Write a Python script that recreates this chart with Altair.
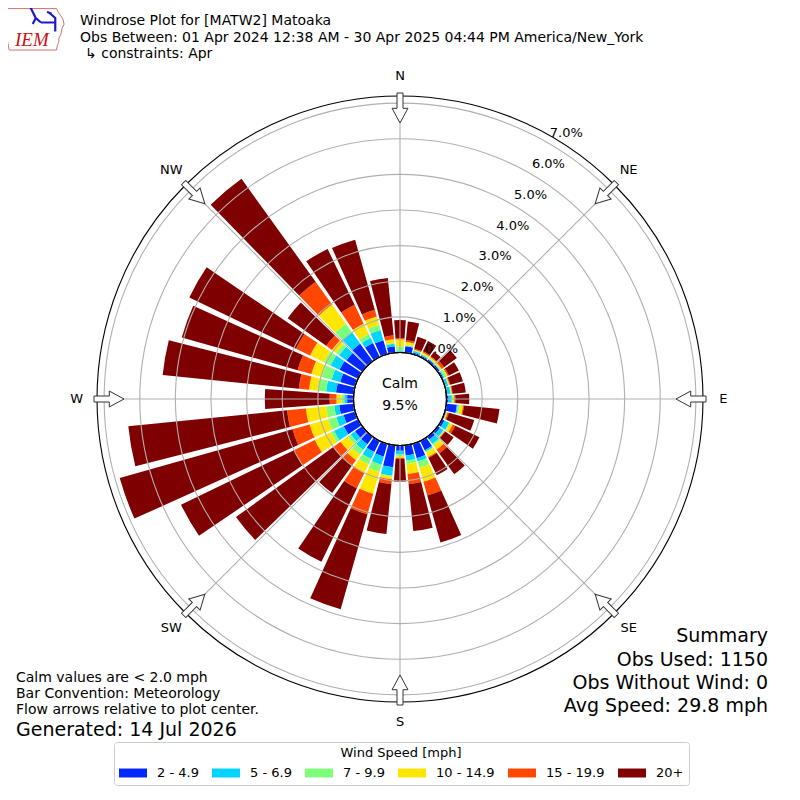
import math
import altair as alt
import pandas as pd

FONT = "DejaVu Sans"

# ---------------- data ----------------
directions = list(range(0, 360, 10))
bins = ["2 - 4.9", "5 - 6.9", "7 - 9.9", "10 - 14.9", "15 - 19.9", "20+"]
colors = ["#0028ff", "#00d4ff", "#7dff7a", "#ffe600", "#ff4700", "#7f0000"]

# percent of observations per direction for each speed bin
spd_2_5 = [0.02, 0.18, 0.05, 0.05, 0.06, 0.06, 0.05, 0.03, 0.03, 0.06,
           0.30, 0.03, 0.08, 0.08, 0.10, 0.29, 0.42, 0.29, 0.15, 0.62,
           0.37, 0.35, 0.26, 0.25, 0.45, 0.34, 0.41, 0.18, 0.50, 0.44,
           0.58, 0.55, 0.61, 0.44, 0.41, 0.18]
spd_5_7 = [0.02, 0.02, 0.05, 0.03, 0.02, 0.02, 0.03, 0.07, 0.09, 0.09,
           0.03, 0.02, 0.15, 0.12, 0.15, 0.04, 0.10, 0.14, 0.10, 0.24,
           0.24, 0.21, 0.20, 0.15, 0.30, 0.21, 0.14, 0.08, 0.28, 0.25,
           0.28, 0.25, 0.39, 0.16, 0.30, 0.07]
spd_7_10 = [0.13, 0.02, 0.02, 0.02, 0.02, 0.02, 0.07, 0.01, 0.02, 0.03,
            0.05, 0.01, 0.02, 0.02, 0.05, 0.03, 0.18, 0.10, 0.05, 0.02,
            0.21, 0.17, 0.16, 0.10, 0.10, 0.24, 0.23, 0.08, 0.24, 0.29,
            0.21, 0.10, 0.30, 0.12, 0.15, 0.03]
spd_10_15 = [0.20, 0.08, 0.02, 0.05, 0.05, 0.04, 0.03, 0.03, 0.02, 0.04,
             0.09, 0.02, 0.09, 0.02, 0.15, 0.14, 0.41, 0.28, 0.05, 0.08,
             0.64, 0.26, 0.19, 0.25, 0.50, 0.54, 0.57, 0.14, 0.24, 0.30,
             0.43, 0.15, 0.66, 0.32, 0.24, 0.10]
spd_15_20 = [0.03, 0.05, 0.03, 0.03, 0.02, 0.08, 0.04, 0.02, 0.02, 0.03,
             0.03, 0.04, 0.08, 0.02, 0.13, 0.03, 0.40, 0.29, 0.03, 0.14,
             0.60, 0.49, 0.18, 0.25, 0.65, 0.50, 0.53, 0.19, 0.29, 0.40,
             0.44, 0.20, 0.79, 0.59, 0.20, 0.11]
spd_20p = [0.51, 0.53, 0.34, 0.32, 0.16, 0.44, 0.31, 0.37, 0.37, 0.39,
           1.00, 0.74, 0.75, 0.29, 0.72, 0.54, 1.37, 1.32, 0.64, 1.40,
           2.77, 2.29, 0.96, 3.37, 3.52, 5.04, 4.48, 1.82, 3.84, 3.38,
           3.32, 1.33, 3.56, 1.74, 2.04, 1.62]
series = [spd_2_5, spd_5_7, spd_7_10, spd_10_15, spd_15_20, spd_20p]

ring_ticks = [0, 1, 2, 3, 4, 5, 6, 7]
ring_labels = ["0.0%", "1.0%", "2.0%", "3.0%", "4.0%", "5.0%", "6.0%", "7.0%"]
compass_angles = [0, 45, 90, 135, 180, 225, 270, 315]
compass_labels = ["N", "NE", "E", "SE", "S", "SW", "W", "NW"]

calm_text = "Calm\n9.5%"
title_lines = ["Windrose Plot for [MATW2] Matoaka",
               "Obs Between: 01 Apr 2024 12:38 AM - 30 Apr 2025 04:44 PM America/New_York",
               "\u21b3 constraints: Apr"]
note_lines = ["Calm values are < 2.0 mph", "Bar Convention: Meteorology",
              "Flow arrows relative to plot center."]
generated = "Generated: 14 Jul 2026"
summary_lines = ["Summary", "Obs Used: 1150", "Obs Without Wind: 0", "Avg Speed: 29.8 mph"]

# ---------------- tables ----------------
HALF = 4.25  # half bar width in degrees
rows = []
for i, d in enumerate(directions):
    c = 0.0
    for k, b in enumerate(bins):
        v = series[k][i]
        if v > 0:
            rows.append({"dir": d, "t1": d - HALF, "t2": d + HALF,
                         "r0": c, "r1": c + v, "bin": b, "k": k})
        c += v
bar_df = pd.DataFrame(rows)

CX, CY = 392, 391
TS = alt.Scale(domain=[0, 360], range=[0, 2 * math.pi])
RS = alt.Scale(type="linear", domain=[0, 7.2], range=[46.5, 303], zero=False)
XC = alt.value(CX)
YC = alt.value(CY)

legend = alt.Legend(
    orient="none", legendX=106, legendY=734, direction="horizontal", columns=6,
    gridAlign="none",
    title="Wind Speed [mph]", titleAnchor="middle", titleFontSize=13,
    titleFontWeight="normal", titleFont=FONT, titleColor="black", titlePadding=6,
    labelFont=FONT, labelFontSize=13, labelColor="black", labelOffset=17,
    symbolType="M-2,-0.64L2,-0.64L2,0.64L-2,0.64Z", symbolSize=196,
    symbolOffset=7,
    symbolStrokeWidth=0, symbolOpacity=1, columnPadding=13,
    strokeColor="#cccccc", fillColor="white", padding=5, cornerRadius=3,
)

bars = alt.Chart(bar_df).mark_arc(strokeWidth=0).encode(
    theta=alt.Theta("t1:Q", scale=TS, stack=None),
    theta2="t2:Q",
    radius=alt.Radius("r1:Q", scale=RS, stack=None),
    radius2="r0:Q",
    color=alt.Color("bin:N", scale=alt.Scale(domain=bins, range=colors),
                    sort=bins, legend=legend),
    order=alt.Order("k:Q"),
    x=XC, y=YC,
)


def circles(values, stroke, fill=None):
    kw = dict(stroke=stroke, strokeWidth=1.1, theta=0, theta2=2 * math.pi)
    if fill is None:
        mk = dict(filled=False, **kw)
    else:
        mk = dict(fill=fill, **kw)
    return alt.Chart(pd.DataFrame({"r": values})).mark_arc(**mk).encode(
        radius=alt.Radius("r:Q", scale=RS, stack=None), x=XC, y=YC)


rings = circles(ring_ticks[1:], "#b0b0b0")
calm = circles([0], "black", fill="white")
outer = circles([7.2], "black")

spokes = alt.Chart(pd.DataFrame({"a": compass_angles})).transform_calculate(
    r_in="0", r_out="7.2"
).mark_arc(filled=False, stroke="#b0b0b0", strokeWidth=1.1).encode(
    theta=alt.Theta("a:Q", scale=TS, stack=None),
    theta2="a:Q",
    radius=alt.Radius("r_out:Q", scale=RS, stack=None),
    radius2="r_in:Q",
    x=XC, y=YC,
)

pct = alt.Chart(pd.DataFrame({"r": ring_ticks, "lab": ring_labels})).transform_calculate(
    ang="30"
).mark_text(font=FONT, fontSize=13, dx=18.3, dy=-9.7, align="center",
            baseline="middle", color="black").encode(
    theta=alt.Theta("ang:Q", scale=TS, stack=None),
    radius=alt.Radius("r:Q", scale=RS, stack=None),
    text="lab:N", x=XC, y=YC,
)

compass = alt.Chart(pd.DataFrame({"a": compass_angles, "lab": compass_labels})).transform_calculate(
    rr="7.77"
).mark_text(font=FONT, fontSize=13, align="center", baseline="middle",
            color="black").encode(
    theta=alt.Theta("a:Q", scale=TS, stack=None),
    radius=alt.Radius("rr:Q", scale=RS, stack=None),
    text="lab:N", x=XC, y=YC,
)

ARROW = "M-0.2,-1L0.2,-1L0.2,0.02L0.53,0.02L0,1L-0.53,0.02L-0.2,0.02Z"
arrows = alt.Chart(pd.DataFrame({"a": compass_angles})).transform_calculate(
    px=f"{CX} + 291*sin(datum.a*PI/180)",
    py=f"{CY} - 291*cos(datum.a*PI/180)",
).mark_point(shape=ARROW, size=900, filled=True, fill="white", fillOpacity=1,
             stroke="#333333", strokeWidth=1, opacity=1).encode(
    x=alt.X("px:Q", scale=None, axis=None),
    y=alt.Y("py:Q", scale=None, axis=None),
    angle=alt.Angle("a:Q", scale=None),
)


def label(text, x, y, size=14, align="left", baseline="alphabetic",
          color="black", font=FONT, style="normal", weight="normal"):
    return alt.Chart(pd.DataFrame({"t": [text]})).mark_text(
        x=x, y=y, align=align, baseline=baseline, fontSize=size, font=font,
        color=color, fontStyle=style, fontWeight=weight, lineBreak="\n",
        lineHeight=22,
    ).encode(text="t:N")


# IEM logo: state outline + small blue station glyph
IOWA = ("M-0.97,-0.68L0.72,-0.68L0.76,-0.58L0.84,-0.46L0.93,-0.33L0.97,-0.16"
        "L0.9,-0.02L0.86,0.18L0.8,0.3L0.79,0.44L0.74,0.56L0.72,0.7L-0.86,0.7"
        "L-0.9,0.5L-0.93,0.3L-0.96,0.05L-1,-0.25Z")
logo_outline = alt.Chart(pd.DataFrame({"t": ["IEM"]})).mark_point(
    shape=IOWA, size=3600, filled=False, stroke="#d07070", strokeWidth=1,
    opacity=1, x=27, y=21)
GLYPH = ("M-0.9,-0.9L-0.55,-0.2L-0.2,0.1M-0.55,-0.2L-0.75,0.2M-0.2,0.1L0.75,0.1"
         "M0.35,-0.55L0.75,-0.2L0.75,0.7M0.2,-0.6L0.5,-0.5")
logo_glyph = alt.Chart(pd.DataFrame({"t": ["IEM"]})).mark_point(
    shape=GLYPH, size=900, filled=False, stroke="#1a1acc", strokeWidth=2.2,
    opacity=1, x=36, y=13)

texts = [
    label(calm_text, CX, CY - 15, size=14, align="center", baseline="middle"),
    label(title_lines[0], 72, 17, size=14),
    label(title_lines[1], 72, 34, size=14),
    label(title_lines[2], 77, 50, size=14),
    label(note_lines[0], 8, 674, size=14),
    label(note_lines[1], 8, 690, size=14),
    label(note_lines[2], 8, 706, size=14),
    label(generated, 8, 728, size=19),
    label(summary_lines[0], 760, 634, size=19, align="right"),
    label(summary_lines[1], 760, 658, size=19, align="right"),
    label(summary_lines[2], 760, 681, size=19, align="right"),
    label(summary_lines[3], 760, 704, size=19, align="right"),
    label("IEM", 7, 38, size=19, color="#cc1111", font="Liberation Serif",
          style="italic"),
]

chart = alt.layer(bars, rings, spokes, calm, outer, pct, compass, arrows,
                  logo_outline, logo_glyph, *texts).properties(
    width=784, height=784, padding=0,
    autosize=alt.AutoSizeParams(type="none"),
    background="white",
).configure_view(stroke=None)

chart.save("out.html", embed_options={"renderer": "svg", "actions": False})
